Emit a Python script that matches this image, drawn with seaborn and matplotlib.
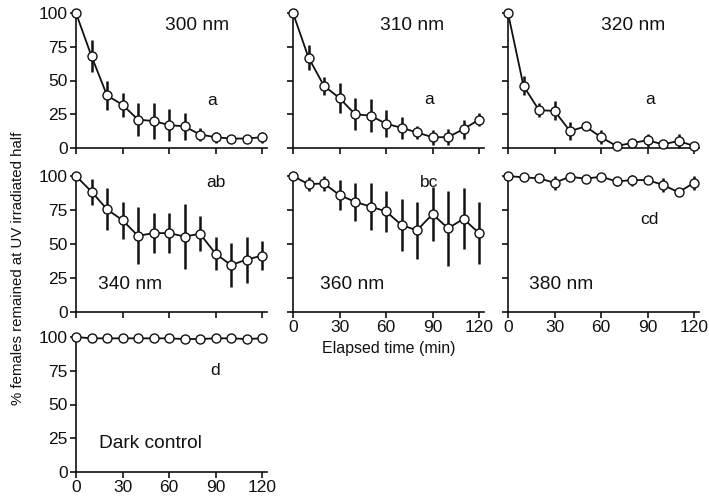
import numpy as np
import pandas as pd
import matplotlib
matplotlib.use("Agg")
import matplotlib.pyplot as plt
import seaborn as sns

sns.set_theme(style="ticks")
plt.rcParams['font.family'] = ['Liberation Sans', 'DejaVu Sans']

time = [0, 10, 20, 30, 40, 50, 60, 70, 80, 90, 100, 110, 120]

v300 = [100, 68, 39, 32, 21, 20, 17, 16, 10, 8, 7, 7, 8]
e300 = [0, 12, 11, 9, 12, 13, 12, 10, 5, 4, 2, 2, 4]
v310 = [100, 67, 46, 37, 25, 24, 18, 15, 11.5, 8, 8, 14, 21]
e310 = [0, 9, 6.5, 11, 12, 12, 10, 8, 5, 5.5, 6, 7, 5]
v320 = [100, 46, 28, 27.5, 12.5, 16, 8, 1.5, 3.7, 5.7, 2.7, 5.2, 1.5]
e320 = [0, 7, 5, 7, 6.5, 2, 5, 1, 2, 5, 2, 5, 1]
v340 = [100, 88.5, 75.5, 67.5, 56, 58, 58, 55.5, 57.5, 43, 34.5, 38.5, 41.5]
e340 = [0, 9.5, 15.5, 13.5, 21, 14.5, 14.5, 24, 13, 12, 16, 17, 10.5]
v360 = [100, 94, 94.5, 86, 81, 77.5, 74, 64, 60, 72, 61.5, 68.5, 58]
e360 = [0, 5, 5.5, 11, 14, 17.5, 15, 19, 21, 20, 27.5, 22.5, 23]
v380 = [100, 99, 98.3, 95, 99.5, 98, 99.5, 96, 97, 97, 93.5, 88, 95]
e380 = [0, 1, 2, 5, 1, 1.5, 1, 3, 4, 2, 5, 1.5, 5]
vdark = [100, 99, 99, 99, 99, 99, 99, 98.5, 98.5, 99, 99, 98.5, 99]
edark = [0, 0.5, 0.5, 0.5, 0.5, 0.5, 0.5, 1, 1, 0.5, 0.5, 1, 0.5]

panel_names = ["300 nm", "310 nm", "320 nm", "340 nm", "360 nm", "380 nm", "Dark control"]
group_letters = ["a", "a", "a", "ab", "bc", "cd", "d"]
series_vals = [v300, v310, v320, v340, v360, v380, vdark]
series_errs = [e300, e310, e320, e340, e360, e380, edark]

yticks = [0, 25, 50, 75, 100]
xticks = [0, 30, 60, 90, 120]

W, H = 709, 503
fig = plt.figure(figsize=(W / 100, H / 100), dpi=100)

col_left = [76, 293, 508]
row_bottom = [148, 312, 472]   # pixel y of value 0
row_top = [13, 176, 337]       # pixel y of value 100
ax_w_px = 123 * 186 / 120

# (row, col) for each panel
grid = [(0, 0), (0, 1), (0, 2), (1, 0), (1, 1), (1, 2), (2, 0)]
name_pos = [(78, 91), (77, 91), (81, 91), (35, 20), (38, 20), (34, 20), (48, 21)]
letter_pos = [(88, 35), (88, 36), (92, 36), (90, 95), (88, 95.5), (91, 68), (90, 75)]

for i, (r, c) in enumerate(grid):
    left = col_left[c] / W
    bottom = (H - row_bottom[r]) / H
    height = (row_bottom[r] - row_top[r]) / H
    ax = fig.add_axes([left, bottom, ax_w_px / W, height])
    df = pd.DataFrame({"time": time, "value": series_vals[i]})
    ax.errorbar(time, series_vals[i], yerr=series_errs[i], fmt="none",
                ecolor="#111111", elinewidth=1.8, capsize=0, zorder=2,
                clip_on=False)
    sns.lineplot(data=df, x="time", y="value", ax=ax, color="#111111",
                 linewidth=1.3, marker="o", markersize=6.5, markerfacecolor="white",
                 markeredgecolor="#111111", markeredgewidth=1.0, zorder=3,
                 clip_on=False)
    ax.set_xlim(0, 123)
    ax.set_ylim(0, 100)
    ax.set_xticks(xticks)
    ax.set_yticks(yticks)
    ax.set_xlabel("")
    ax.set_ylabel("")
    for s in ["top", "right"]:
        ax.spines[s].set_visible(False)
    for s in ["left", "bottom"]:
        ax.spines[s].set_linewidth(1.2)
        ax.spines[s].set_color("#111111")
    ax.tick_params(direction="out", length=4, width=1.2, color="#111111",
                   labelsize=12.5, labelcolor="#111111", pad=2)
    if c != 0:
        ax.set_yticklabels([])
    if not (r == 2 or (r == 1 and c > 0)):
        ax.set_xticklabels([])
    ax.text(name_pos[i][0], name_pos[i][1], panel_names[i], ha="center",
            va="center", fontsize=13.8, color="#111111")
    ax.text(letter_pos[i][0], letter_pos[i][1], group_letters[i], ha="center",
            va="center", fontsize=12.5, color="#111111")
    if r == 1 and c == 1:
        ax.set_xlabel("Elapsed time (min)", fontsize=11.5, color="#111111", labelpad=4)

fig.text(18 / W, 1 - 268 / H, "% females remained at UV irradiated half",
         rotation=90, ha="center", va="center", fontsize=10.8, color="#111111")

fig.savefig("out.png", dpi=100)
